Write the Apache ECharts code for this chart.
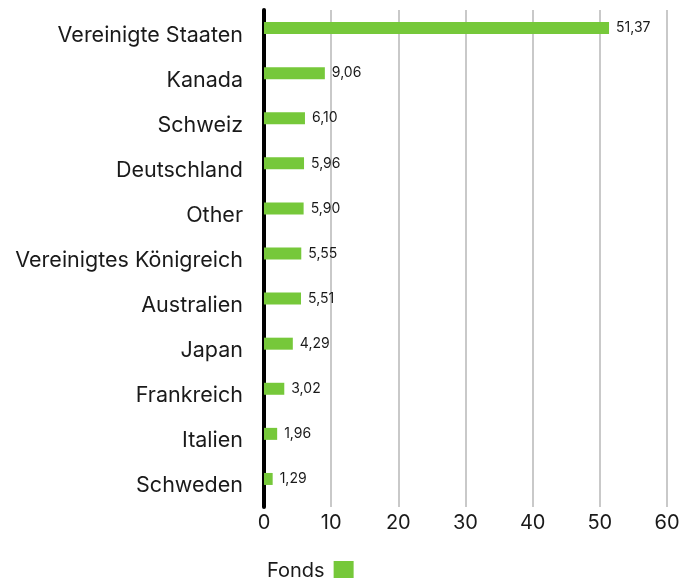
<!DOCTYPE html>
<html>
<head>
<meta charset="utf-8">
<script src="https://cdn.jsdelivr.net/npm/echarts@6/dist/echarts.min.js"></script>
<style>
  html, body { margin: 0; padding: 0; background: #fff; }
  #chart { width: 697px; height: 578px; }
</style>
</head>
<body>
<div id="chart"></div>
<script>
// Country weights of the fund (%), top to bottom
const countries = [
  'Vereinigte Staaten', 'Kanada', 'Schweiz', 'Deutschland', 'Other',
  'Vereinigtes Königreich', 'Australien', 'Japan', 'Frankreich', 'Italien', 'Schweden'
];
const fondsValues = [51.37, 9.06, 6.10, 5.96, 5.90, 5.55, 5.51, 4.29, 3.02, 1.96, 1.29];
const seriesName = 'Fonds';
const axisMin = 0;
const axisMax = 60;
const axisStep = 10;

const FONT = 'Inter, "Noto Sans", sans-serif';
const GREEN = '#76c83a';
const TEXT = '#1a1a1a';

const chart = echarts.init(document.getElementById('chart'), null, { renderer: 'canvas' });

chart.setOption({
  animation: false,
  textStyle: { fontFamily: FONT },
  grid: [
    // bars and country labels
    { left: 264, right: 30, top: 5.5, height: 496, containLabel: false },
    // gridlines, value ticks and baseline
    { left: 264, right: 30, top: 10, height: 497, containLabel: false }
  ],
  legend: {
    data: [seriesName],
    left: 262,
    top: 556,
    align: 'right',
    icon: 'rect',
    itemWidth: 20,
    itemHeight: 20,
    textStyle: { fontFamily: FONT, fontSize: 20, color: TEXT, padding: [4, 4, 0, 0] }
  },
  xAxis: [
    { type: 'value', gridIndex: 0, min: axisMin, max: axisMax, interval: axisStep, show: false },
    {
      type: 'value', gridIndex: 1, min: axisMin, max: axisMax, interval: axisStep,
      axisLine: { show: false },
      axisTick: { show: false },
      splitLine: { show: true, lineStyle: { color: '#c9c9c9', width: 2 } },
      axisLabel: { fontFamily: FONT, fontSize: 20, color: TEXT, margin: 6 }
    }
  ],
  yAxis: [
    {
      type: 'category', gridIndex: 0, data: countries, inverse: true,
      axisLine: { show: false },
      axisTick: { show: false },
      splitLine: { show: false },
      axisLabel: {
        fontFamily: FONT, fontSize: 21.5, color: TEXT, margin: 21,
        verticalAlign: 'top', lineHeight: 14
      }
    },
    {
      type: 'value', gridIndex: 1, min: 0, max: 1,
      axisLine: { show: true, lineStyle: { color: '#000', width: 4 } },
      axisTick: { show: false },
      axisLabel: { show: false },
      splitLine: { show: false }
    }
  ],
  series: [
    {
      name: seriesName,
      type: 'bar',
      xAxisIndex: 0,
      yAxisIndex: 0,
      data: fondsValues,
      barWidth: 12,
      itemStyle: { color: GREEN },
      z: 3,
      label: {
        show: true,
        position: 'right',
        distance: 7,
        fontFamily: FONT,
        fontSize: 14,
        color: TEXT,
        padding: [2, 0, 0, 0],
        formatter: p => p.value.toFixed(2).replace('.', ',')
      }
    }
  ]
});
</script>
</body>
</html>
